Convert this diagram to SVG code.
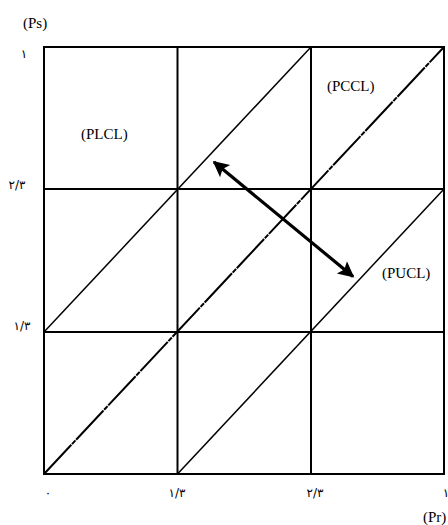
<svg xmlns="http://www.w3.org/2000/svg" width="448" height="525" viewBox="0 0 448 525">
<style>
.grid{stroke:#000;stroke-width:2;fill:none}
.diag{stroke:#000;stroke-width:1.5;fill:none}
.main{stroke:#000;stroke-width:2;fill:none;stroke-dasharray:40 1 5 1}
.lbl{font-family:"Liberation Serif","Times New Roman",serif;font-size:15px;fill:#000}
.num{font-family:"DejaVu Sans","Noto Sans",sans-serif;font-size:12px;fill:#000}
.arr{stroke:#000;stroke-width:3.2;fill:none;marker-start:url(#ah);marker-end:url(#ah)}
</style>
<defs>
<marker id="ah" viewBox="0 0 10 10" refX="9" refY="5" markerWidth="6" markerHeight="5" orient="auto-start-reverse" markerUnits="strokeWidth">
<path d="M0,0 L10,5 L0,10 L2,5 Z" fill="#000"/>
</marker>
</defs>
<rect width="448" height="525" fill="#fff"/>
<g id="grid">
<rect class="grid" x="44" y="47" width="400" height="427"/>
<line class="grid" x1="177.5" y1="47" x2="177.5" y2="474"/>
<line class="grid" x1="311" y1="47" x2="311" y2="474"/>
<line class="grid" x1="44" y1="189" x2="444" y2="189"/>
<line class="grid" x1="44" y1="332" x2="444" y2="332"/>
</g>
<g id="connectors">
<line id="PCCL-line" class="main" x1="44" y1="474" x2="444" y2="47"/>
<line id="PLCL-line" class="diag" x1="44" y1="332" x2="311" y2="47"/>
<line id="PUCL-line" class="diag" x1="177.5" y1="474" x2="444" y2="189"/>
<line id="arrow" class="arr" x1="214" y1="162" x2="353" y2="276.5"/>
</g>
<g id="PLCL"><text class="lbl" x="81" y="139">(PLCL)</text></g>
<g id="PCCL"><text class="lbl" x="327" y="91">(PCCL)</text></g>
<g id="PUCL"><text class="lbl" x="382" y="278">(PUCL)</text></g>
<g id="axis-y">
<text class="lbl" x="23" y="28">(Ps)</text>
<text class="num" x="24" y="58" text-anchor="middle">۱</text>
<text class="num" x="17" y="189" text-anchor="middle">۲/۳</text>
<text class="num" x="22" y="330" text-anchor="middle">۱/۳</text>
</g>
<g id="axis-x">
<text class="num" x="48" y="497" text-anchor="middle">۰</text>
<text class="num" x="177" y="497" text-anchor="middle">۱/۳</text>
<text class="num" x="315" y="497" text-anchor="middle">۲/۳</text>
<text class="num" x="446" y="497" text-anchor="middle">۱</text>
<text class="lbl" x="423" y="522">(Pr)</text>
</g>
</svg>
